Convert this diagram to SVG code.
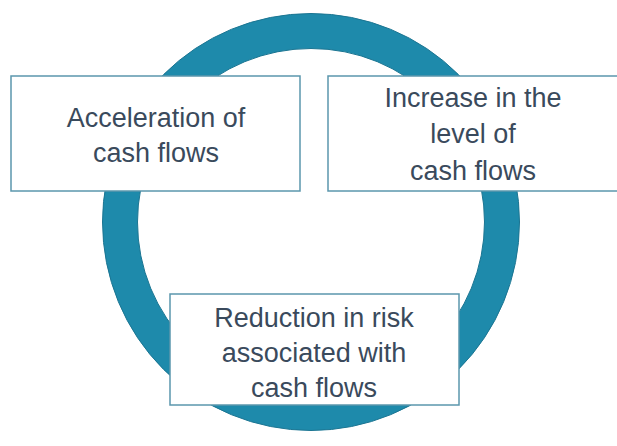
<svg xmlns="http://www.w3.org/2000/svg" width="617" height="446" viewBox="0 0 617 446">
<style>
.box{fill:#fff;stroke:#5b97ad;stroke-width:1.5}
.t{font-family:"Liberation Sans",Arial,sans-serif;font-size:27px;fill:#3a4a5c;text-anchor:middle}
</style>
<rect width="617" height="446" fill="#fff"/>
<g id="connectors">
<circle cx="311" cy="222" r="191" fill="none" stroke="#1e8aab" stroke-width="35"/>
<circle cx="311" cy="222" r="208.5" fill="none" stroke="#1b7592" stroke-width="1"/>
<circle cx="311" cy="222" r="173.5" fill="none" stroke="#1b7592" stroke-width="1"/>
</g>
<g id="n1"><rect class="box" x="11" y="76" width="289" height="115"/>
<text class="t" x="156" y="127">Acceleration of</text><text class="t" x="156" y="162">cash flows</text></g>
<g id="n2"><rect class="box" x="328" y="76" width="300" height="115"/>
<text class="t" x="473" y="107">Increase in the</text><text class="t" x="473" y="143">level of</text><text class="t" x="473" y="180">cash flows</text></g>
<g id="n3"><rect class="box" x="170" y="294" width="289" height="111"/>
<text class="t" x="314" y="327">Reduction in risk</text><text class="t" x="314" y="362">associated with</text><text class="t" x="314" y="397">cash flows</text></g>
</svg>
